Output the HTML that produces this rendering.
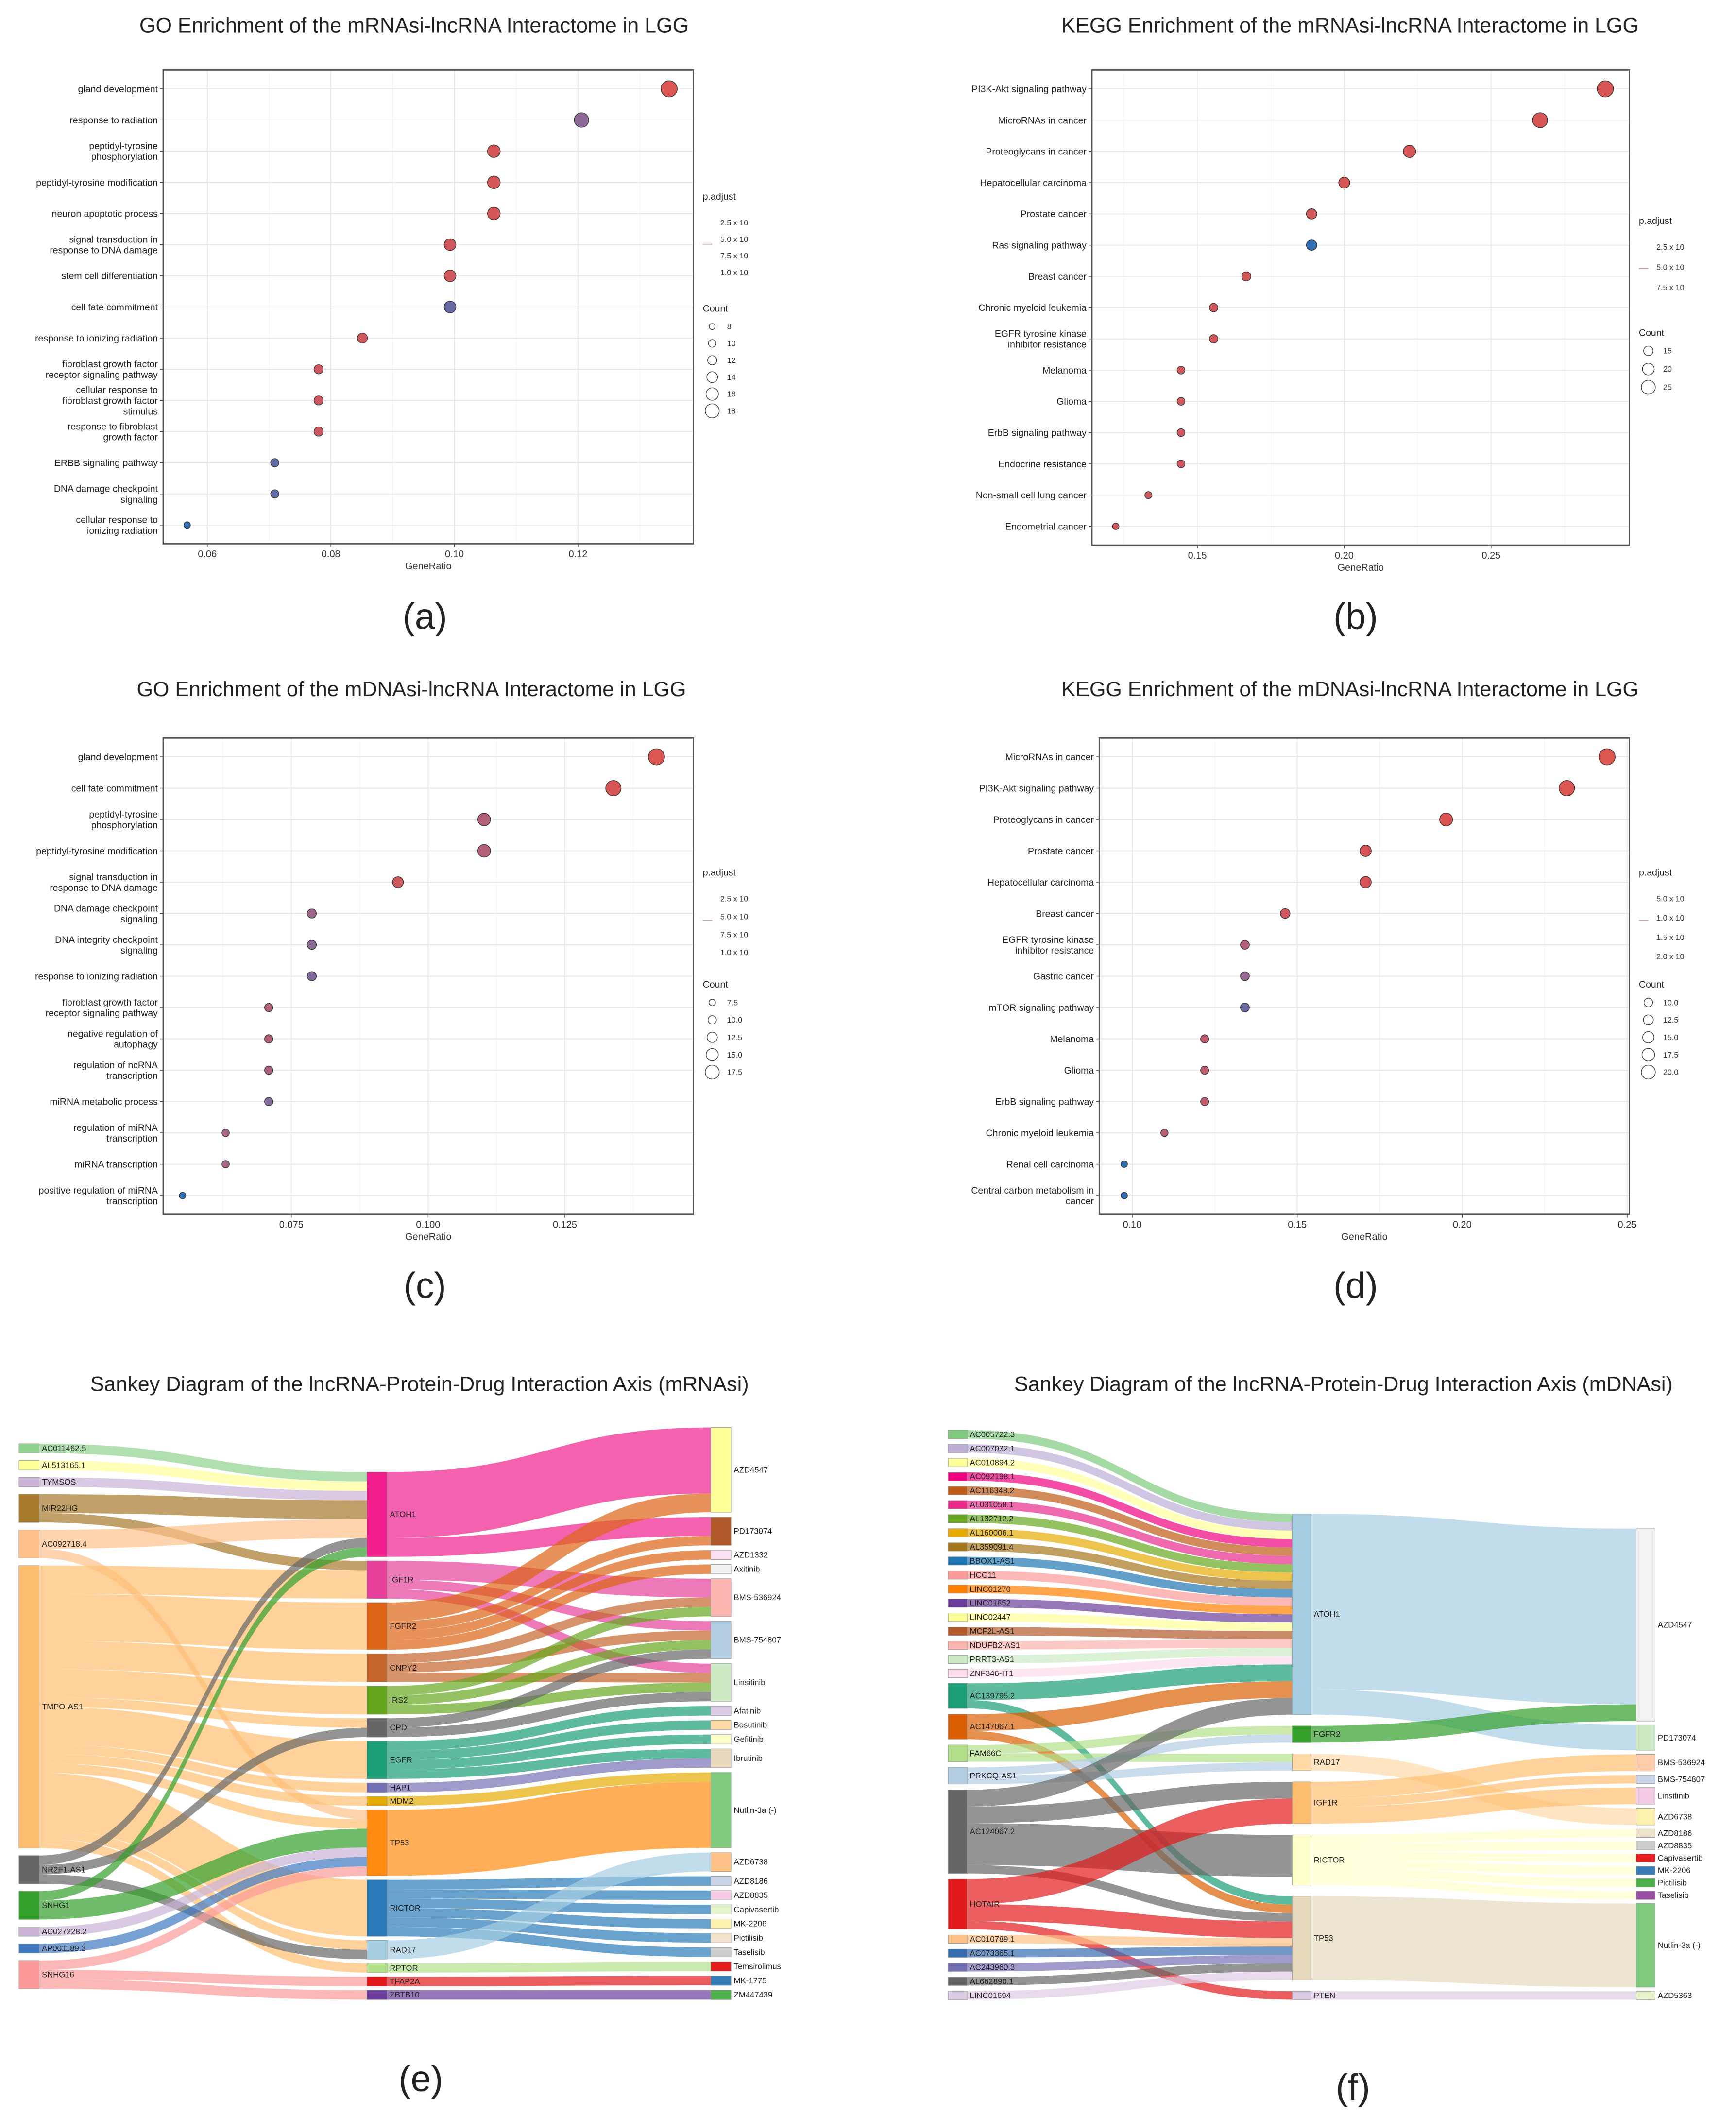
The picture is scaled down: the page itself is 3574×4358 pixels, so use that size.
<!DOCTYPE html>
<html><head><meta charset="utf-8"><title>Enrichment and Sankey figure</title>
<style>
html,body{margin:0;padding:0;background:#fff;}
svg{display:block;font-family:"Liberation Sans",sans-serif;}
</style></head>
<body>
<svg id="fig" xmlns="http://www.w3.org/2000/svg" width="3574" height="4358" viewBox="0 0 1287 1569" preserveAspectRatio="none">
<rect x="0" y="0" width="1287" height="1569" fill="#fff"/>
<text x="307" y="24" font-size="15.5" text-anchor="middle" fill="#222">GO Enrichment of the mRNAsi-lncRNA Interactome in LGG</text>
<text x="1001" y="24" font-size="15.5" text-anchor="middle" fill="#222">KEGG Enrichment of the mRNAsi-lncRNA Interactome in LGG</text>
<text x="305" y="516" font-size="15.5" text-anchor="middle" fill="#222">GO Enrichment of the mDNAsi-lncRNA Interactome in LGG</text>
<text x="1001" y="516" font-size="15.5" text-anchor="middle" fill="#222">KEGG Enrichment of the mDNAsi-lncRNA Interactome in LGG</text>
<text x="311" y="1031" font-size="15.5" text-anchor="middle" fill="#222">Sankey Diagram of the lncRNA-Protein-Drug Interaction Axis (mRNAsi)</text>
<text x="996" y="1031" font-size="15.5" text-anchor="middle" fill="#222">Sankey Diagram of the lncRNA-Protein-Drug Interaction Axis (mDNAsi)</text>
<text x="315" y="466" font-size="27" text-anchor="middle" fill="#222">(a)</text>
<text x="1005" y="466" font-size="27" text-anchor="middle" fill="#222">(b)</text>
<text x="315" y="962" font-size="27" text-anchor="middle" fill="#222">(c)</text>
<text x="1005" y="962" font-size="27" text-anchor="middle" fill="#222">(d)</text>
<text x="312" y="1550" font-size="27" text-anchor="middle" fill="#222">(e)</text>
<text x="1003" y="1556" font-size="27" text-anchor="middle" fill="#222">(f)</text>
</svg>
<script>
// ---------- Panel (a) data ----------
const aCategories = ["gland development","response to radiation","peptidyl-tyrosine\nphosphorylation","peptidyl-tyrosine modification","neuron apoptotic process","signal transduction in\nresponse to DNA damage","stem cell differentiation","cell fate commitment","response to ionizing radiation","fibroblast growth factor\nreceptor signaling pathway","cellular response to\nfibroblast growth factor\nstimulus","response to fibroblast\ngrowth factor","ERBB signaling pathway","DNA damage checkpoint\nsignaling","cellular response to\nionizing radiation"];
const aCounts = [19,17,15,15,15,14,14,14,12,11,11,11,10,10,8];
const aTotal = 141;
const aPadj = [0.02,0.55,0.05,0.05,0.05,0.1,0.1,0.72,0.1,0.1,0.1,0.1,0.75,0.75,1.0];
const aTicks = [0.06,0.08,0.10,0.12];
const aTickLabels = ["0.06","0.08","0.10","0.12"];
const aPLabels = ["2.5 x 10","5.0 x 10","7.5 x 10","1.0 x 10"];
const aCountLegend = [8,10,12,14,16,18];
// ---------- Panel (b) data ----------
const bCategories = ["PI3K-Akt signaling pathway","MicroRNAs in cancer","Proteoglycans in cancer","Hepatocellular carcinoma","Prostate cancer","Ras signaling pathway","Breast cancer","Chronic myeloid leukemia","EGFR tyrosine kinase\ninhibitor resistance","Melanoma","Glioma","ErbB signaling pathway","Endocrine resistance","Non-small cell lung cancer","Endometrial cancer"];
const bCounts = [26,24,20,18,17,17,15,14,14,13,13,13,13,12,11];
const bTotal = 90;
const bPadj = [0.05,0.05,0.05,0.05,0.08,1.0,0.08,0.1,0.1,0.1,0.1,0.1,0.1,0.1,0.12];
const bTicks = [0.15,0.20,0.25];
const bTickLabels = ["0.15","0.20","0.25"];
const bPLabels = ["2.5 x 10","5.0 x 10","7.5 x 10"];
const bCountLegend = [15,20,25];
// ---------- Panel (c) data ----------
const cCategories = ["gland development","cell fate commitment","peptidyl-tyrosine\nphosphorylation","peptidyl-tyrosine modification","signal transduction in\nresponse to DNA damage","DNA damage checkpoint\nsignaling","DNA integrity checkpoint\nsignaling","response to ionizing radiation","fibroblast growth factor\nreceptor signaling pathway","negative regulation of\nautophagy","regulation of ncRNA\ntranscription","miRNA metabolic process","regulation of miRNA\ntranscription","miRNA transcription","positive regulation of miRNA\ntranscription"];
const cCounts = [18,17,14,14,12,10,10,10,9,9,9,9,8,8,7];
const cTotal = 127;
const cPadj = [0.02,0.05,0.3,0.3,0.12,0.45,0.55,0.6,0.3,0.3,0.35,0.6,0.4,0.4,1.0];
const cTicks = [0.075,0.100,0.125];
const cTickLabels = ["0.075","0.100","0.125"];
const cPLabels = ["2.5 x 10","5.0 x 10","7.5 x 10","1.0 x 10"];
const cCountLegend = [7.5,10,12.5,15,17.5];
// ---------- Panel (d) data ----------
const dCategories = ["MicroRNAs in cancer","PI3K-Akt signaling pathway","Proteoglycans in cancer","Prostate cancer","Hepatocellular carcinoma","Breast cancer","EGFR tyrosine kinase\ninhibitor resistance","Gastric cancer","mTOR signaling pathway","Melanoma","Glioma","ErbB signaling pathway","Chronic myeloid leukemia","Renal cell carcinoma","Central carbon metabolism in\ncancer"];
const dCounts = [20,19,16,14,14,12,11,11,11,10,10,10,9,8,8];
const dTotal = 82;
const dPadj = [0.02,0.02,0.03,0.05,0.05,0.1,0.3,0.5,0.72,0.2,0.2,0.2,0.25,1.0,1.0];
const dTicks = [0.10,0.15,0.20,0.25];
const dTickLabels = ["0.10","0.15","0.20","0.25"];
const dPLabels = ["5.0 x 10","1.0 x 10","1.5 x 10","2.0 x 10"];
const dCountLegend = [10,12.5,15,17.5,20];

// ---------- Panel (e) sankey data ----------
const eCol0 = ["AC011462.5","AL513165.1","TYMSOS","MIR22HG","AC092718.4","TMPO-AS1","NR2F1-AS1","SNHG1","AC027228.2","AP001189.3","SNHG16"];
const eCol1 = ["ATOH1","IGF1R","FGFR2","CNPY2","IRS2","CPD","EGFR","HAP1","MDM2","TP53","RICTOR","RAD17","RPTOR","TFAP2A","ZBTB10"];
const eCol2 = ["AZD4547","PD173074","AZD1332","Axitinib","BMS-536924","BMS-754807","Linsitinib","Afatinib","Bosutinib","Gefitinib","Ibrutinib","Nutlin-3a (-)","AZD6738","AZD8186","AZD8835","Capivasertib","MK-2206","Pictilisib","Taselisib","Temsirolimus","MK-1775","ZM447439"];
const eLinkSource = ["AC011462.5","AL513165.1","TYMSOS","MIR22HG","MIR22HG","AC092718.4","AC092718.4","TMPO-AS1","TMPO-AS1","TMPO-AS1","TMPO-AS1","TMPO-AS1","TMPO-AS1","TMPO-AS1","TMPO-AS1","TMPO-AS1","TMPO-AS1","TMPO-AS1","TMPO-AS1","NR2F1-AS1","NR2F1-AS1","NR2F1-AS1","SNHG1","SNHG1","AC027228.2","AP001189.3","SNHG16","SNHG16","SNHG16",
 "ATOH1","ATOH1","IGF1R","IGF1R","IGF1R","FGFR2","FGFR2","FGFR2","FGFR2","CNPY2","CNPY2","CNPY2","IRS2","IRS2","IRS2","CPD","CPD","EGFR","EGFR","EGFR","EGFR","HAP1","MDM2","TP53","RICTOR","RICTOR","RICTOR","RICTOR","RICTOR","RICTOR","RAD17","RPTOR","TFAP2A","ZBTB10"];
const eLinkTarget = ["ATOH1","ATOH1","ATOH1","ATOH1","IGF1R","ATOH1","TP53","IGF1R","FGFR2","CNPY2","IRS2","CPD","EGFR","HAP1","MDM2","TP53","RICTOR","RAD17","RPTOR","ATOH1","CPD","RAD17","ATOH1","TP53","TP53","TP53","TP53","TFAP2A","ZBTB10",
 "AZD4547","PD173074","BMS-536924","BMS-754807","Linsitinib","AZD4547","PD173074","AZD1332","Axitinib","BMS-536924","BMS-754807","Linsitinib","BMS-536924","BMS-754807","Linsitinib","BMS-754807","Linsitinib","Afatinib","Bosutinib","Gefitinib","Ibrutinib","Ibrutinib","Nutlin-3a (-)","Nutlin-3a (-)","AZD8186","AZD8835","Capivasertib","MK-2206","Pictilisib","Taselisib","AZD6738","Temsirolimus","MK-1775","ZM447439"];
const eLinkValue = [1,1,1,2,1,2,1,3,5,3,3,1,4,1,1,1,6,1,1,1,1,1,1,2,1,1,1,1,1,
 7,2,2,1,1,2,1,1,1,1,1,1,1,1,1,1,1,1,1,1,1,1,1,7,1,1,1,1,1,1,2,1,1,1];
const eColors = {"AC011462.5":"#8fd18f","AL513165.1":"#ffff99","TYMSOS":"#cab2d6","MIR22HG":"#a6792a","AC092718.4":"#fdc08a","TMPO-AS1":"#fdbf6f","NR2F1-AS1":"#666666","SNHG1":"#33a02c","AC027228.2":"#cab2d6","AP001189.3":"#3f78c0","SNHG16":"#fb9a99",
 "ATOH1":"#f01e8c","IGF1R":"#e7409a","FGFR2":"#dd6414","CNPY2":"#c4652c","IRS2":"#66a61e","CPD":"#666666","EGFR":"#1b9e77","HAP1":"#7570b3","MDM2":"#e6ab02","TP53":"#ff8a10","RICTOR":"#2a7ab8","RAD17":"#a6cee3","RPTOR":"#b2df8a","TFAP2A":"#e31a1c","ZBTB10":"#6a3d9a",
 "AZD4547":"#ffff99","PD173074":"#b15928","AZD1332":"#fde0ef","Axitinib":"#f0f0f0","BMS-536924":"#fbb4ae","BMS-754807":"#b3cde3","Linsitinib":"#ccebc5","Afatinib":"#decbe4","Bosutinib":"#fed9a6","Gefitinib":"#ffffcc","Ibrutinib":"#e5d8bd","Nutlin-3a (-)":"#7fc97f","AZD6738":"#fdc086","AZD8186":"#cbd5e8","AZD8835":"#f4cae4","Capivasertib":"#e6f5c9","MK-2206":"#fff2ae","Pictilisib":"#f1e2cc","Taselisib":"#cccccc","Temsirolimus":"#e41a1c","MK-1775":"#377eb8","ZM447439":"#4daf4a"};

// ---------- Panel (f) sankey data ----------
const fCol0 = ["AC005722.3","AC007032.1","AC010894.2","AC092198.1","AC116348.2","AL031058.1","AL132712.2","AL160006.1","AL359091.4","BBOX1-AS1","HCG11","LINC01270","LINC01852","LINC02447","MCF2L-AS1","NDUFB2-AS1","PRRT3-AS1","ZNF346-IT1","AC139795.2","AC147067.1","FAM66C","PRKCQ-AS1","AC124067.2","HOTAIR","AC010789.1","AC073365.1","AC243960.3","AL662890.1","LINC01694"];
const fCol1 = ["ATOH1","FGFR2","RAD17","IGF1R","RICTOR","TP53","PTEN"];
const fCol2 = ["AZD4547","PD173074","BMS-536924","BMS-754807","Linsitinib","AZD6738","AZD8186","AZD8835","Capivasertib","MK-2206","Pictilisib","Taselisib","Nutlin-3a (-)","AZD5363"];
const fLinkSource = ["AC005722.3","AC007032.1","AC010894.2","AC092198.1","AC116348.2","AL031058.1","AL132712.2","AL160006.1","AL359091.4","BBOX1-AS1","HCG11","LINC01270","LINC01852","LINC02447","MCF2L-AS1","NDUFB2-AS1","PRRT3-AS1","ZNF346-IT1","AC139795.2","AC139795.2","AC147067.1","AC147067.1","FAM66C","FAM66C","PRKCQ-AS1","PRKCQ-AS1","AC124067.2","AC124067.2","AC124067.2","AC124067.2","HOTAIR","HOTAIR","HOTAIR","AC010789.1","AC073365.1","AC243960.3","AL662890.1","LINC01694",
 "ATOH1","ATOH1","FGFR2","RAD17","IGF1R","IGF1R","IGF1R","RICTOR","RICTOR","RICTOR","RICTOR","RICTOR","RICTOR","TP53","PTEN"];
const fLinkTarget = ["ATOH1","ATOH1","ATOH1","ATOH1","ATOH1","ATOH1","ATOH1","ATOH1","ATOH1","ATOH1","ATOH1","ATOH1","ATOH1","ATOH1","ATOH1","ATOH1","ATOH1","ATOH1","ATOH1","TP53","ATOH1","TP53","FGFR2","RAD17","FGFR2","RAD17","ATOH1","IGF1R","RICTOR","TP53","IGF1R","TP53","PTEN","TP53","TP53","TP53","TP53","TP53",
 "AZD4547","PD173074","AZD4547","AZD6738","BMS-536924","BMS-754807","Linsitinib","AZD8186","AZD8835","Capivasertib","MK-2206","Pictilisib","Taselisib","Nutlin-3a (-)","AZD5363"];
const fLinkValue = [1,1,1,1,1,1,1,1,1,1,1,1,1,1,1,1,1,1,2,1,2,1,1,1,1,1,2,2,5,1,3,2,1,1,1,1,1,1,
 21,3,2,2,2,1,2,1,1,1,1,1,1,10,1];
const fColors = {"AC005722.3":"#7fc97f","AC007032.1":"#beaed4","AC010894.2":"#ffff99","AC092198.1":"#f0027f","AC116348.2":"#bf5b17","AL031058.1":"#e7298a","AL132712.2":"#66a61e","AL160006.1":"#e6ab02","AL359091.4":"#a6761d","BBOX1-AS1":"#1f78b4","HCG11":"#fb9a99","LINC01270":"#ff7f00","LINC01852":"#6a3d9a","LINC02447":"#ffff99","MCF2L-AS1":"#b15928","NDUFB2-AS1":"#fbb4ae","PRRT3-AS1":"#ccebc5","ZNF346-IT1":"#fddaec","AC139795.2":"#1b9e77","AC147067.1":"#d95f02","FAM66C":"#b2df8a","PRKCQ-AS1":"#b3cde3","AC124067.2":"#666666","HOTAIR":"#e31a1c","AC010789.1":"#fdc086","AC073365.1":"#386cb0","AC243960.3":"#7570b3","AL662890.1":"#666666","LINC01694":"#decbe4",
 "ATOH1":"#a6cee3","FGFR2":"#33a02c","RAD17":"#fed9a6","IGF1R":"#fdbf6f","RICTOR":"#ffffcc","TP53":"#e5d8bd","PTEN":"#decbe4",
 "AZD4547":"#f2f2f2","PD173074":"#ccebc5","BMS-536924":"#fdcdac","BMS-754807":"#cbd5e8","Linsitinib":"#f4cae4","AZD6738":"#fff2ae","AZD8186":"#f1e2cc","AZD8835":"#cccccc","Capivasertib":"#e41a1c","MK-2206":"#377eb8","Pictilisib":"#4daf4a","Taselisib":"#984ea3","Nutlin-3a (-)":"#7fc97f","AZD5363":"#e6f5c9"};

const NS = "http://www.w3.org/2000/svg";
const svg = document.getElementById('fig');
function mk(tag, attrs, parent){
  const e = document.createElementNS(NS, tag);
  for (const k in attrs) e.setAttribute(k, attrs[k]);
  (parent||svg).appendChild(e);
  return e;
}
function padjColor(t){
  const stops=[[222,84,78],[150,104,148],[46,110,178]];
  let a,b,u;
  if(t<=0.5){a=stops[0];b=stops[1];u=t/0.5;}else{a=stops[1];b=stops[2];u=(t-0.5)/0.5;}
  const c=a.map((v,i)=>Math.round(v+(b[i]-v)*u));
  return "rgb("+c.join(",")+")";
}

function dotPlot(p){
  const g = mk('g',{});
  
  
  const [x0,y0,x1,y1] = p.box;
  const xs = v => x0 + (v - p.dom[0])/(p.dom[1]-p.dom[0])*(x1-x0);
  const n = p.cats.length;
  const step = (y1-y0)/(n-1+1.2);
  const ys = i => y0 + 0.6*step + i*step;
  const cMin = Math.min(...p.counts), cMax = Math.max(...p.counts);
  const rs = c => 2.4 + 3.6*(c-cMin)/(cMax-cMin);
  for (let i=0;i<p.ticks.length+1;i++){
    const step2 = p.ticks[1]-p.ticks[0];
    const v = p.ticks[0] - step2/2 + i*step2;
    if (v<=p.dom[0]||v>=p.dom[1]) continue;
    const l = mk('line',{x1:xs(v),x2:xs(v),y1:y0,y2:y1,stroke:'#f2f2f2','stroke-width':0.4},g);
    
    
  }
  p.ticks.forEach((v,i)=>{
    const l = mk('line',{x1:xs(v),x2:xs(v),y1:y0,y2:y1,stroke:'#e6e6e6','stroke-width':0.6},g);
    
    
    const tk = mk('line',{x1:xs(v),x2:xs(v),y1:y1,y2:y1+2.5,stroke:'#444','stroke-width':0.5},g);
    
    
    const t = mk('text',{x:xs(v),y:y1+10,'font-size':7.2,'text-anchor':'middle',fill:'#333'},g);
    t.textContent = p.tickLabels[i];
    
    
  });
  p.cats.forEach((c,i)=>{
    const y = ys(i);
    const l = mk('line',{x1:x0,x2:x1,y1:y,y2:y,stroke:'#e6e6e6','stroke-width':0.7},g);
    
    
    const tk = mk('line',{x1:x0-2.5,x2:x0,y1:y,y2:y,stroke:'#444','stroke-width':0.5},g);
    
    
    const lines = c.split("\n");
    const t = mk('text',{x:x0-4,y:y - (lines.length-1)*4 + 2.5,'font-size':7,'text-anchor':'end',fill:'#222'},g);
    
    
    lines.forEach((ln,j)=>{
      const s = mk('tspan',{x:x0-4,dy:j===0?0:8},t);
      s.textContent = ln;
    });
  });
  const frame = mk('rect',{x:x0,y:y0,width:x1-x0,height:y1-y0,fill:'none',stroke:'#555','stroke-width':1},g);
  
  
  p.cats.forEach((c,i)=>{
    const v = p.counts[i]/p.total;
    const d = mk('circle',{cx:xs(v),cy:ys(i),r:rs(p.counts[i]),fill:padjColor(p.padj[i]),stroke:'#333','stroke-width':0.5},g);
    
    
  });
  const xt = mk('text',{x:(x0+x1)/2,y:y1+19,'font-size':7.2,'text-anchor':'middle',fill:'#333'},g);
  xt.textContent = 'GeneRatio';
  
  
  const L = p.legend;
  const lg = mk('g',{},g);
  
  
  const pt = mk('text',{x:L.x,y:L.py,'font-size':7,fill:'#222'},lg);
  pt.textContent = 'p.adjust';
  
  
  p.pLabels.forEach((s,i)=>{
    const t = mk('text',{x:L.x+13,y:L.py+19+i*L.pstep,'font-size':5.8,fill:'#333'},lg);
    t.textContent = s;
    
    
  });
  const bar = mk('line',{x1:L.x,x2:L.x+7,y1:L.py+33,y2:L.py+33,stroke:'#c9a0b0','stroke-width':0.6},lg);
  
  
  const ct = mk('text',{x:L.x,y:L.cy,'font-size':7,fill:'#222'},lg);
  ct.textContent = 'Count';
  
  
  const lmin = L.lr[0], lmax = L.lr[1];
  p.countLegend.forEach((c,i)=>{
    const yy = L.cy + 11 + i*L.cstep;
    const r = lmin + (lmax-lmin)*(i/(p.countLegend.length-1));
    const ci = mk('circle',{cx:L.x+7,cy:yy,r:r,fill:'none',stroke:'#333','stroke-width':0.5},lg);
    
    
    const t = mk('text',{x:L.x+18,y:yy+2,'font-size':5.8,fill:'#333'},lg);
    t.textContent = String(c).indexOf('.')>=0 || !p.decimals ? String(c) : c.toFixed(1);
    
    
  });
}

dotPlot({name:'dotplot-a',box:[121,52,514,403],dom:[0.05286,0.13867],cats:aCategories,counts:aCounts,total:aTotal,padj:aPadj,ticks:aTicks,tickLabels:aTickLabels,pLabels:aPLabels,countLegend:aCountLegend,legend:{x:521,py:148,pstep:12.3,cy:231,cstep:12.5,lr:[2.2,5.2]}});
dotPlot({name:'dotplot-b',box:[809.5,52,1208,404],dom:[0.1141,0.2971],cats:bCategories,counts:bCounts,total:bTotal,padj:bPadj,ticks:bTicks,tickLabels:bTickLabels,pLabels:bPLabels,countLegend:bCountLegend,legend:{x:1215,py:166,pstep:15,cy:249,cstep:13.5,lr:[3.5,5.2]}});
dotPlot({name:'dotplot-c',box:[121,547,514,900],dom:[0.05158,0.14847],cats:cCategories,counts:cCounts,total:cTotal,padj:cPadj,ticks:cTicks,tickLabels:cTickLabels,pLabels:cPLabels,countLegend:cCountLegend,decimals:true,legend:{x:521,py:649,pstep:13.3,cy:732,cstep:12.9,lr:[2.4,5.2]}});
dotPlot({name:'dotplot-d',box:[815,547,1208,900],dom:[0.09002,0.25069],cats:dCategories,counts:dCounts,total:dTotal,padj:dPadj,ticks:dTicks,tickLabels:dTickLabels,pLabels:dPLabels,countLegend:dCountLegend,decimals:true,legend:{x:1215,py:649,pstep:14.3,cy:732,cstep:12.9,lr:[3.2,5.2]}});

function sankey(p){
  const g = mk('g',{});
  
  
  const cols = p.cols;
  const node = {};
  cols.forEach((col,ci)=>col.forEach(n=>{node[n]={name:n,col:ci,inV:0,outV:0,ins:[],outs:[]};}));
  const links = p.src.map((s,i)=>({s:node[s],t:node[p.tgt[i]],v:p.val[i]}));
  links.forEach(l=>{l.s.outV+=l.v;l.t.inV+=l.v;l.s.outs.push(l);l.t.ins.push(l);});
  Object.values(node).forEach(n=>n.v=Math.max(n.inV,n.outV));
  let k = Infinity;
  cols.forEach((col,ci)=>{
    const sum = col.reduce((a,n)=>a+node[n].v,0);
    const H = p.ext[ci][1]-p.ext[ci][0];
    k = Math.min(k,(H-3*(col.length-1))/sum);
  });
  cols.forEach((col,ci)=>{
    const sum = col.reduce((a,n)=>a+node[n].v,0);
    const H = p.ext[ci][1]-p.ext[ci][0];
    const gap = col.length>1 ? (H-k*sum)/(col.length-1) : 0;
    let y = p.ext[ci][0];
    col.forEach(n=>{const o=node[n];o.y0=y;o.y1=y+k*o.v;o.x=p.xs[ci];y=o.y1+gap;});
  });
  Object.values(node).forEach(n=>{
    n.outs.sort((a,b)=>a.t.y0-b.t.y0);
    n.ins.sort((a,b)=>a.s.y0-b.s.y0);
    let y=n.y0; n.outs.forEach(l=>{l.sy=y;y+=l.v*k;});
    y=n.y0; n.ins.forEach(l=>{l.ty=y;y+=l.v*k;});
  });
  const w = p.w;
  links.forEach(l=>{
    const xa = l.s.x + w, xb = l.t.x, xm = (xa+xb)/2, h = l.v*k;
    const d = `M${xa},${l.sy} C${xm},${l.sy} ${xm},${l.ty} ${xb},${l.ty} L${xb},${l.ty+h} C${xm},${l.ty+h} ${xm},${l.sy+h} ${xa},${l.sy+h} Z`;
    const path = mk('path',{d:d,fill:p.colors[l.s.name],'fill-opacity':p.op},g);
    
    
  });
  Object.values(node).forEach(n=>{
    const r = mk('rect',{x:n.x,y:n.y0,width:w,height:Math.max(0.8,n.y1-n.y0),fill:p.colors[n.name],stroke:'#999','stroke-width':0.3},g);
    
    
    const t = mk('text',{x:n.x+w+2,y:(n.y0+n.y1)/2+2,'font-size':6,fill:'#222'},g);
    t.textContent = n.name;
    
    
  });
}

sankey({name:'sankey-e',cols:[eCol0,eCol1,eCol2],src:eLinkSource,tgt:eLinkTarget,val:eLinkValue,colors:eColors,
  xs:[14,272,527],w:15,ext:[[1070,1474],[1091,1482],[1058,1482]],op:0.7});
sankey({name:'sankey-f',cols:[fCol0,fCol1,fCol2],src:fLinkSource,tgt:fLinkTarget,val:fLinkValue,colors:fColors,
  xs:[703,958,1213],w:14,ext:[[1060,1482],[1122,1482],[1133,1482]],op:0.7});
</script>
</body></html>
